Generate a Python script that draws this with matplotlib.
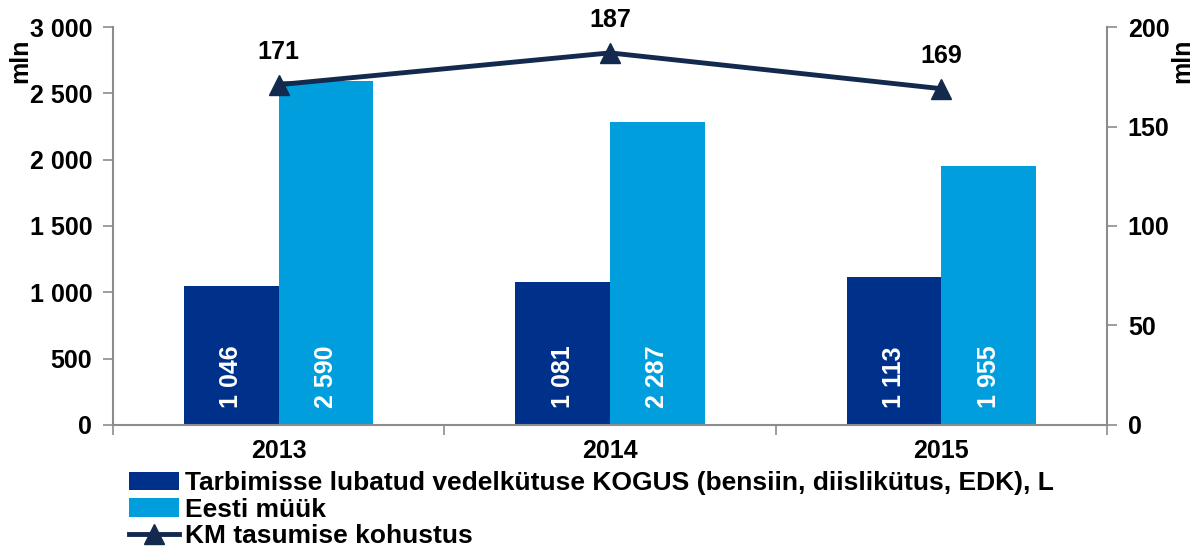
import numpy as np
import matplotlib.pyplot as plt
from matplotlib.ticker import FuncFormatter, FixedLocator

# Data
years = ['2013', '2014', '2015']
kogus = [1046, 1081, 1113]
eesti_myyk = [2590, 2287, 1955]
km_kohustus = [171, 187, 169]

labels = ['Tarbimisse lubatud vedelkütuse KOGUS (bensiin, diislikütus, EDK), L',
          'Eesti müük',
          'KM tasumise kohustus']

plt.rcParams['font.family'] = ['Liberation Sans', 'DejaVu Sans']
plt.rcParams['font.weight'] = 'bold'
fs = 18

c_dark = '#00318A'
c_light = '#009EDC'
c_line = '#132A4E'
c_axis = '#8C8C8C'

fig = plt.figure(figsize=(11.97, 5.49), dpi=100)
ax1 = fig.add_axes([0.0944, 0.2259, 0.8304, 0.7249])
ax2 = ax1.twinx()

x = np.arange(len(years))
w = 0.286
b1 = ax1.bar(x - w/2, kogus, w, color=c_dark, label=labels[0], zorder=2)
b2 = ax1.bar(x + w/2, eesti_myyk, w, color=c_light, label=labels[1], zorder=2)

# white value labels near the bar base
for bars, vals in [(b1, kogus), (b2, eesti_myyk)]:
    for r, v in zip(bars, vals):
        ax1.annotate('{:,}'.format(v).replace(',', ' '),
                     (r.get_x() + r.get_width()/2, 0), xytext=(0, 17),
                     textcoords='offset pixels', rotation=90, ha='center',
                     va='bottom', color='white', fontsize=fs, fontweight='bold')

ln, = ax2.plot(x, km_kohustus, color=c_line, lw=3.5, marker='^', markersize=14,
               label=labels[2], zorder=3)
for xi, v in zip(x, km_kohustus):
    ax2.annotate(str(v), (xi, v), xytext=(0, 21), textcoords='offset pixels',
                 ha='center', va='bottom', fontsize=fs, fontweight='bold')

ax1.set_xlim(-0.5, 2.5)
ax1.set_ylim(0, 3000)
ax2.set_ylim(0, 200)
ax1.set_yticks(range(0, 3001, 500))
ax2.set_yticks(range(0, 201, 50))
ax1.yaxis.set_major_formatter(FuncFormatter(lambda v, p: '{:,.0f}'.format(v).replace(',', ' ')))

ax1.set_xticks(x)
ax1.set_xticklabels(years)
ax1.xaxis.set_minor_locator(FixedLocator([-0.5, 0.5, 1.5, 2.5]))
ax1.tick_params(axis='x', which='major', length=0, pad=10, labelsize=fs)
ax1.tick_params(axis='x', which='minor', length=7, color=c_axis, width=1.2)
ax1.tick_params(axis='y', length=7, color=c_axis, width=1.2, labelsize=fs, pad=8)
ax2.tick_params(axis='y', length=7, color=c_axis, width=1.2, labelsize=fs, pad=8)

for ax in (ax1, ax2):
    for s in ax.spines.values():
        s.set_visible(False)
ax1.spines['left'].set_visible(True)
ax1.spines['bottom'].set_visible(True)
ax2.spines['right'].set_visible(True)
for s in [ax1.spines['left'], ax1.spines['bottom'], ax2.spines['right']]:
    s.set_color(c_axis)
    s.set_linewidth(1.5)

fig.text(0.017, 0.89, 'mln', rotation=90, fontsize=fs, fontweight='bold', ha='center', va='center')
fig.text(0.988, 0.89, 'mln', rotation=90, fontsize=fs, fontweight='bold', ha='center', va='center')

fig.legend(handles=[b1, b2, ln], loc='upper left', bbox_to_anchor=(0.108, 0.142),
           frameon=False, fontsize=19, handlelength=1.9, handletextpad=0.2,
           labelspacing=0.1, borderpad=0, borderaxespad=0)

fig.savefig('out.png', dpi=100)
